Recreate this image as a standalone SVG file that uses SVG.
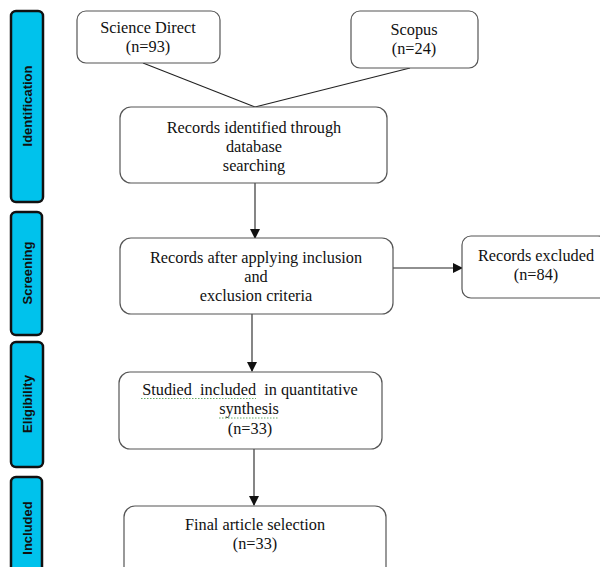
<svg xmlns="http://www.w3.org/2000/svg" width="600" height="567" viewBox="0 0 600 567">
<style>
.box{fill:#fff;stroke:#555;stroke-width:1.2}
.bar{fill:#00C2EC;stroke:#111;stroke-width:2.5}
.t{font-family:"Liberation Serif",serif;font-size:16.3px;fill:#111;text-anchor:middle;white-space:pre}
.s{font-family:"Liberation Sans",Arial,sans-serif;font-size:13px;font-weight:bold;fill:#111;text-anchor:middle}
.c{stroke:#222;stroke-width:1.1;fill:none}
.sq{stroke:#6a6;stroke-width:1;stroke-dasharray:1.5 1.5;fill:none}
</style>
<defs>
<marker id="ah" markerWidth="10" markerHeight="10" refX="9" refY="5" orient="auto" markerUnits="userSpaceOnUse">
<path d="M0,0 L10,5 L0,10 z" fill="#111"/>
</marker>
</defs>
<g id="phase-identification"><rect class="bar" x="11" y="11" width="32" height="191" rx="5"/><text class="s" transform="translate(31.5,106) rotate(-90)">Identification</text></g>
<g id="phase-screening"><rect class="bar" x="11" y="212" width="31" height="123" rx="5"/><text class="s" transform="translate(31.5,273) rotate(-90)">Screening</text></g>
<g id="phase-eligibility"><rect class="bar" x="11" y="342" width="32" height="125" rx="5"/><text class="s" transform="translate(31.5,404) rotate(-90)">Eligibility</text></g>
<g id="phase-included"><rect class="bar" x="11" y="477" width="31" height="100" rx="5"/><text class="s" transform="translate(31.5,528) rotate(-90)">Included</text></g>

<g id="connectors">
<line class="c" x1="143" y1="63" x2="255" y2="107"/>
<line class="c" x1="410" y1="68" x2="255" y2="107"/>
<line class="c" x1="255" y1="183" x2="255" y2="238" marker-end="url(#ah)"/>
<line class="c" x1="387" y1="268" x2="462" y2="268" marker-end="url(#ah)"/>
<line class="c" x1="252" y1="314" x2="252" y2="371" marker-end="url(#ah)"/>
<line class="c" x1="254" y1="449" x2="254" y2="505" marker-end="url(#ah)"/>
</g>

<g id="science-direct"><rect class="box" x="77" y="11" width="143" height="52" rx="9"/><text class="t" x="148" y="33">Science Direct</text><text class="t" x="148" y="52">(n=93)</text></g>
<g id="scopus"><rect class="box" x="351" y="11" width="127" height="57" rx="9"/><text class="t" x="414" y="35">Scopus</text><text class="t" x="414" y="54">(n=24)</text></g>
<g id="records-identified"><rect class="box" x="120" y="107" width="267" height="76" rx="11"/><text class="t" x="254" y="133">Records identified through</text><text class="t" x="254" y="152">database</text><text class="t" x="254" y="171">searching</text></g>
<g id="records-after"><rect class="box" x="120" y="238" width="273" height="76" rx="11"/><text class="t" x="256" y="263">Records after applying inclusion</text><text class="t" x="256" y="282">and</text><text class="t" x="256" y="301">exclusion criteria</text></g>
<g id="records-excluded"><rect class="box" x="462" y="236" width="145" height="62" rx="9"/><text class="t" x="536" y="261">Records excluded</text><text class="t" x="536" y="280">(n=84)</text></g>
<g id="studied-included"><rect class="box" x="119" y="372" width="263" height="77" rx="11"/><text class="t" x="250" y="395" xml:space="preserve">Studied  included  in quantitative</text><text class="t" x="249" y="414">synthesis</text><text class="t" x="250" y="434">(n=33)</text><path class="sq" d="M141,398.5 H256 M219,418 H279"/></g>
<g id="final-selection"><rect class="box" x="124" y="506" width="262" height="80" rx="11"/><text class="t" x="255" y="530">Final article selection</text><text class="t" x="255" y="549">(n=33)</text></g>
</svg>
